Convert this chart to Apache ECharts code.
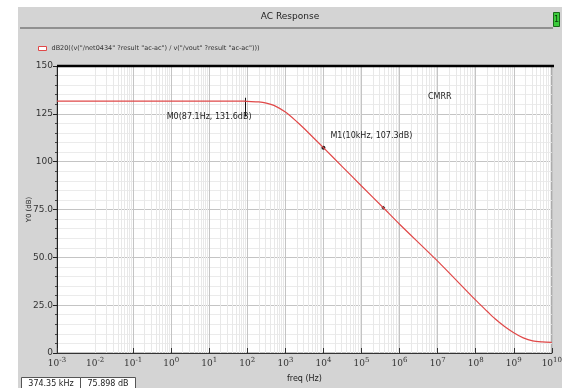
<!DOCTYPE html>
<html>
<head>
<meta charset="utf-8">
<script src="https://cdn.jsdelivr.net/npm/echarts@6/dist/echarts.min.js"></script>
<style>
html,body{margin:0;padding:0;background:#ffffff;}
#chart{width:565px;height:388px;}
</style>
</head>
<body>
<div id="chart"></div>
<script>
// ---- data ----
const chartTitle = 'AC Response';
const seriesName = 'dB20((v("/net0434" ?result "ac-ac") / v("/vout" ?result "ac-ac")))';
const freqHz = [1e-3, 1e-2, 1e-1, 1, 10, 87.1, 100, 200, 316, 500, 1000, 2000, 3162, 1e4, 3.162e4, 1e5, 3.7435e5, 1e6, 1e7, 1e8, 2e8, 3.162e8, 5.623e8, 1e9, 1.778e9, 3.162e9, 5.623e9, 1e10];
const gainDb = [131.6, 131.6, 131.6, 131.6, 131.6, 131.6, 131.5, 131.2, 130.6, 129.4, 125.9, 120.9, 117.2, 107.3, 97.3, 87.3, 75.9, 67.3, 48.0, 27.6, 21.8, 18.0, 14.0, 10.6, 7.9, 6.3, 5.8, 5.6];
const markerNames = ['M0', 'M1'];
const markerFreq = [87.1, 1e4];
const markerDb = [131.6, 107.3];
const markerFreqText = ['87.1Hz', '10kHz'];
const cursorFreq = 374.35e3;
const cursorDb = 75.898;
const cursorText = ['374.35 kHz', '75.898 dB'];
const xTickExponents = [-3, -2, -1, 0, 1, 2, 3, 4, 5, 6, 7, 8, 9, 10];
const yTicks = [0, 25, 50, 75, 100, 125, 150];
const annotation = 'CMRR';
const xTitle = 'freq (Hz)';
const yTitle = 'Y0 (dB)';

// minor log grid positions (2..9 x 10^n)
const minorX = [];
for (let i = 0; i < xTickExponents.length - 1; i++) {
  for (let k = 2; k <= 9; k++) minorX.push(k * Math.pow(10, xTickExponents[i]));
}

const chart = echarts.init(document.getElementById('chart'), null, {renderer: 'canvas'});
const font = 'DejaVu Sans';
const red = '#e04848';

const option = {
  animation: false,
  backgroundColor: '#ffffff',
  textStyle: {fontFamily: font},
  graphic: [
    {type: 'rect', z: -10, shape: {x: 18, y: 7, width: 544, height: 381}, style: {fill: '#d4d4d4'}},
    {type: 'line', z: -5, shape: {x1: 20, y1: 28, x2: 553, y2: 28}, style: {stroke: '#7a7a7a', lineWidth: 1.5}},
    {type: 'rect', shape: {x: 553.5, y: 12.5, width: 6, height: 14}, style: {fill: '#3ccc3c', stroke: '#1a6a1a', lineWidth: 1}},
    {type: 'text', style: {x: 556.5, y: 20, text: '1', fill: '#0a3a0a', font: '8px ' + font, align: 'center', verticalAlign: 'middle'}},
    {type: 'text', style: {x: 290, y: 17, text: chartTitle, fill: '#222', font: '9px ' + font, align: 'center', verticalAlign: 'middle'}},
    {type: 'text', z: 100, style: {x: 428, y: 97, text: annotation, fill: '#222', font: '8px ' + font, align: 'left', verticalAlign: 'middle'}},
    {type: 'line', z: 100, shape: {x1: 57, y1: 66, x2: 554, y2: 66}, style: {stroke: '#000', lineWidth: 2.5}},
    {type: 'rect', shape: {x: 21.5, y: 377.5, width: 59, height: 14}, style: {fill: '#ffffff', stroke: '#555', lineWidth: 1}},
    {type: 'rect', shape: {x: 80.5, y: 377.5, width: 55, height: 14}, style: {fill: '#ffffff', stroke: '#555', lineWidth: 1}},
    {type: 'text', style: {x: 51, y: 384, text: cursorText[0], fill: '#222', font: '8px ' + font, align: 'center', verticalAlign: 'middle'}},
    {type: 'text', style: {x: 108, y: 384, text: cursorText[1], fill: '#222', font: '8px ' + font, align: 'center', verticalAlign: 'middle'}}
  ],
  legend: {
    show: true,
    left: 33,
    top: 40,
    itemWidth: 8,
    itemHeight: 4,
    itemGap: 4,
    icon: 'rect',
    data: [{name: seriesName, itemStyle: {color: '#ffffff', borderColor: red, borderWidth: 1}}],
    textStyle: {fontSize: 6.5, color: '#333', fontFamily: font}
  },
  grid: {left: 57, right: 11, top: 66, bottom: 32, show: true, backgroundColor: '#ffffff', borderColor: '#8a8a8a', borderWidth: 1},
  xAxis: {
    type: 'log',
    logBase: 10,
    min: 1e-3,
    max: 1e10,
    interval: 1,
    name: xTitle,
    nameLocation: 'middle',
    nameGap: 22,
    nameMoveOverlap: false,
    nameTextStyle: {fontSize: 8, color: '#222', fontFamily: font},
    axisLine: {show: true, lineStyle: {color: '#333', width: 1}},
    axisTick: {show: true, inside: true, length: 5, lineStyle: {color: '#333'}},
    splitLine: {show: true, lineStyle: {color: '#c4c4c4', width: 1}},
    axisLabel: {
      show: true,
      showMinLabel: true,
      showMaxLabel: true,
      margin: 4,
      color: '#333',
      formatter: function (v) {
        const e = Math.round(Math.log10(v));
        return '{b|10}{s|' + e + '}';
      },
      rich: {
        b: {fontSize: 9, fontFamily: 'DejaVu Serif', color: '#333'},
        s: {fontSize: 7, fontFamily: 'DejaVu Serif', color: '#333', padding: [0, 0, 7, 0]}
      }
    }
  },
  yAxis: {
    type: 'value',
    min: yTicks[0],
    max: yTicks[yTicks.length - 1],
    interval: yTicks[1] - yTicks[0],
    name: yTitle,
    nameLocation: 'middle',
    nameRotate: 90,
    nameGap: 24,
    nameMoveOverlap: false,
    nameTextStyle: {fontSize: 7, color: '#222', fontFamily: font},
    axisLine: {show: true, lineStyle: {color: '#222', width: 1}},
    axisTick: {show: true, length: 4, lineStyle: {color: '#222'}},
    minorTick: {show: true, splitNumber: 5, length: 2, lineStyle: {color: '#444'}},
    splitLine: {show: true, lineStyle: {color: '#c4c4c4', width: 1}},
    minorSplitLine: {show: true, lineStyle: {color: '#ebebeb', width: 1}},
    axisLabel: {
      margin: 4,
      fontSize: 9,
      color: '#333',
      fontFamily: font,
      formatter: function (v) { return v === 0 ? '0' : (v < 100 ? v.toFixed(1) : String(v)); }
    }
  },
  series: [
    {
      name: 'minorgrid',
      type: 'line',
      data: [],
      z: 1,
      silent: true,
      markLine: {
        silent: true,
        symbol: ['none', 'none'],
        label: {show: false},
        lineStyle: {color: '#e8e8e8', type: 'solid', width: 1},
        data: minorX.map(function (v) { return {xAxis: v}; })
      }
    },
    {
      name: seriesName,
      type: 'line',
      z: 5,
      data: freqHz.map(function (f, i) { return [f, gainDb[i]]; }),
      showSymbol: false,
      symbol: 'none',
      smooth: 0.25,
      lineStyle: {color: red, width: 1.2},
      itemStyle: {color: red},
      markLine: {
        silent: true,
        symbol: ['none', 'none'],
        label: {show: false},
        lineStyle: {color: '#111', type: 'solid', width: 1},
        data: [[{coord: [markerFreq[0], markerDb[0] + 1.8]}, {coord: [markerFreq[0], markerDb[0] - 8]}]]
      },
      markPoint: {
        silent: true,
        data: [
          {coord: [markerFreq[0], markerDb[0]], symbol: 'circle', symbolSize: 1, itemStyle: {color: '#111'},
           label: {show: true, formatter: markerNames[0] + '(' + markerFreqText[0] + ', ' + markerDb[0].toFixed(1) + 'dB)',
                   position: [7, 16], align: 'right', verticalAlign: 'middle', fontSize: 8, color: '#222', fontFamily: font}},
          {coord: [markerFreq[1], markerDb[1]], symbol: 'circle', symbolSize: 4, itemStyle: {color: '#222'},
           label: {show: true, formatter: markerNames[1] + '(' + markerFreqText[1] + ', ' + markerDb[1].toFixed(1) + 'dB)',
                   position: [9, -10], align: 'left', verticalAlign: 'middle', fontSize: 8, color: '#222', fontFamily: font}},
          {coord: [cursorFreq, cursorDb], symbol: 'diamond', symbolSize: 4, itemStyle: {color: '#333'}, label: {show: false}}
        ]
      }
    }
  ]
};
chart.setOption(option);
</script>
</body>
</html>
